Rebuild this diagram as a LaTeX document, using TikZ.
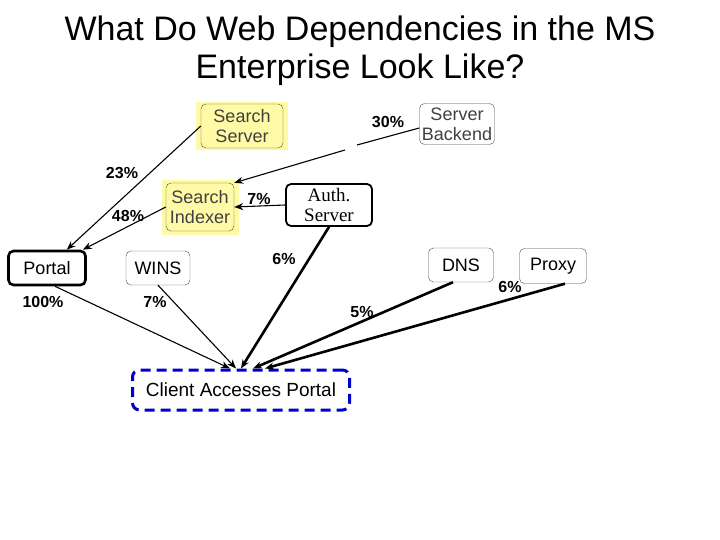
\documentclass[tikz,border=0pt]{standalone}
\usepackage{fontspec}
\setmainfont{Liberation Sans}
\newfontfamily\serif{Liberation Serif}
\usetikzlibrary{arrows.meta}
\begin{document}
\begin{tikzpicture}[x=1pt,y=-1pt,
  box/.style={draw,rounded corners=5pt,align=center,font=\fontsize{18}{20}\selectfont,inner sep=0pt},
  hl/.style={box,draw=black!70,fill=yellow!35,text=black!75},
  pl/.style={font=\bfseries\fontsize{16}{16}\selectfont},
  ar/.style={-{Stealth[length=9pt,width=7pt]}},
  lk/.style={ar,line width=1.1pt},
  tk/.style={ar,line width=2.6pt}]
\useasboundingbox (0,0) rectangle (720,540);
\node[font=\fontsize{34}{38}\selectfont,align=center] (title) at (360,51) {What Do Web Dependencies in the MS\\Enterprise Look Like?};
\fill[yellow!35] (196,102) rectangle (288,150);
\fill[yellow!35] (162,180) rectangle (239,235);
\node[hl,minimum width=82pt,minimum height=44pt] (ss) at (242,126) {Search\\Server};
\node[box,draw=black!70,text=black!75,minimum width=75pt,minimum height=41pt] (sb) at (457,124) {Server\\Backend};
\node[hl,minimum width=68pt,minimum height=48pt] (si) at (200,207) {Search\\Indexer};
\node[box,line width=1.8pt,minimum width=86pt,minimum height=42pt,font=\serif\fontsize{19}{20}\selectfont] (au) at (329,205) {Auth.\\Server};
\node[box,line width=2.6pt,minimum width=77pt,minimum height=34pt] (po) at (47,268) {Portal};
\node[box,draw=black!70,minimum width=64pt,minimum height=34pt] (wi) at (158,268) {WINS};
\node[box,draw=black!70,minimum width=65pt,minimum height=34pt] (dn) at (461,265) {DNS};
\node[box,draw=black!70,minimum width=67pt,minimum height=35pt] (px) at (553,266) {Proxy};
\node[box,draw=blue!80!black,line width=3pt,dash pattern=on 10pt off 6pt,rounded corners=7pt,minimum width=217pt,minimum height=40pt,font=\fontsize{19}{19}\selectfont] (cl) at (241,390) {Client Accesses Portal};
\coordinate (g1) at (345,150);
\coordinate (g2) at (357,145);
\draw[line width=1.1pt] (sb.west|-0,128) -- (g2);
\draw[lk] (g1) -- (si.north east);
\draw[lk] (ss.west) -- ([xshift=-20pt]po.north east);
\draw[lk] (si.west) -- ([xshift=-4pt]po.north east);
\draw[lk] (au.west) -- (si.east);
\draw[lk] ([xshift=8pt]po.south) -- ([xshift=-11pt]cl.north);
\draw[lk] (wi.south) -- ([xshift=-5pt]cl.north);
\draw[tk] (au.south) -- (cl.north);
\draw[tk] ([xshift=-8pt]dn.south) -- ([xshift=12pt]cl.north);
\draw[tk] ([xshift=12pt]px.south) -- ([xshift=24pt]cl.north);
\node[pl] (l1) at (388,122) {30\%};
\node[pl] (l2) at (122,173) {23\%};
\node[pl] (l3) at (128,216) {48\%};
\node[pl] (l4) at (259,199) {7\%};
\node[pl] (l5) at (284,259) {6\%};
\node[pl] (l6) at (43,302) {100\%};
\node[pl] (l7) at (155,302) {7\%};
\node[pl] (l8) at (362,312) {5\%};
\node[pl] (l9) at (510,287) {6\%};
\end{tikzpicture}
\end{document}
